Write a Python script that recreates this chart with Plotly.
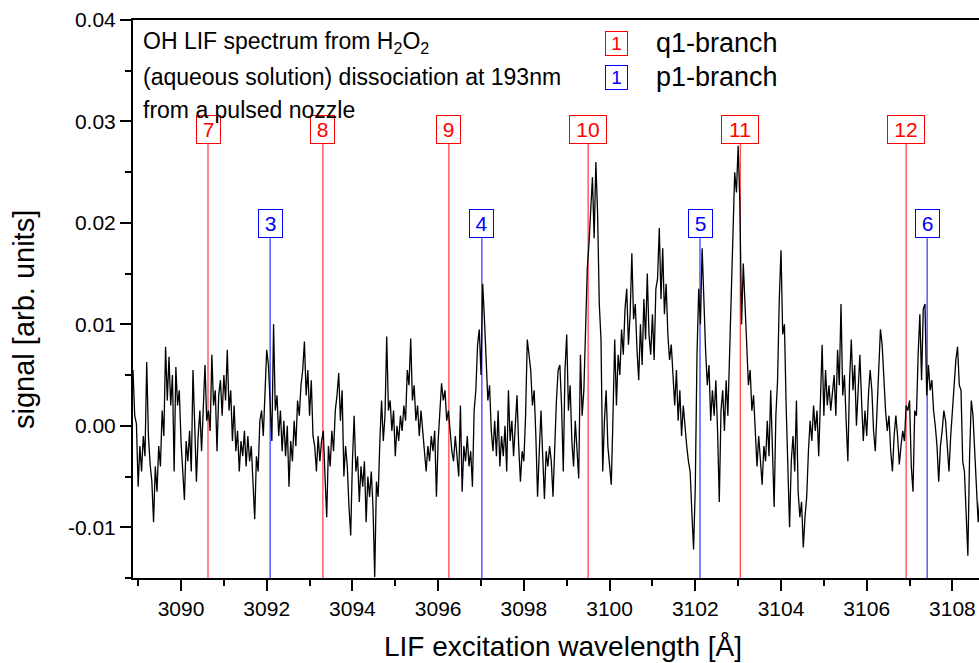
import numpy as np
import plotly.graph_objects as go

# ---------------- data ----------------
wl_start = 3088.88      # first wavelength of the scan [Å]
wl_step = 0.04          # scan step [Å]

# LIF signal in units of 1e-3 (arb. units)
signal_milli = [
    5.5, 1.0, 0.2, -6.0, -2.0, -4.5, -1.0, -3.0, 6.3, -1.0, -3.8, -5.5, -9.5, -4.0, -6.5, -2.0, -4.0, 1.5, -1.0, 7.8, 2.5, 6.8, 2.0, 5.0, -4.5,
    5.8, 2.0, 3.5, -1.5, -4.0, -7.3, -1.5, -3.5, -0.5, -4.5, 5.5, -1.0, -5.5, -1.0, 1.5, -2.5, 2.5, 6.0, 0.5, 1.5, -0.5, 7.0, 2.0, 3.5, -2.5,
    3.0, 4.5, 1.0, 5.0, 2.5, 7.5, 1.5, 3.5, -1.5, 2.0, -2.5, -0.5, -4.5, -1.5, -3.0, -0.5, -4.0, -1.0, -3.5, -2.0, -5.5, -9.2, -3.0, -4.5, 0.5,
    1.5, -1.0, 4.0, 7.5, 6.0, 2.5, -1.5, 10.0, 1.5, 3.0, -1.0, 1.5, -2.5, 0.5, -3.0, 0.0, -6.0, -1.5, -3.5, 0.5, -2.0, 2.5, 1.0, 4.0, 5.5,
    8.3, 3.0, 5.5, 1.0, 4.5, -1.0, -2.0, -4.5, -1.0, -3.5, -1.5, -0.5, -5.0, -9.0, -2.0, -4.0, -0.5, -2.5, 1.5, 3.0, 5.2, 0.5, 3.5, -5.0, -2.0,
    -4.0, -8.0, -10.8, -3.5, 1.0, -4.5, -3.0, -7.5, -4.0, -6.0, -3.5, -9.5, -5.0, -7.0, -4.5, -8.0, -14.9, -5.5, -7.0, -1.5, 2.5, -1.5, 1.0, 8.8, 1.5,
    2.5, -0.5, 1.5, -3.0, 0.0, -1.5, 1.0, -0.5, 2.0, 0.5, 5.5, 4.0, 8.6, 2.5, 4.0, 0.5, 2.0, -1.0, 1.5, -0.5, -2.5, -4.5, -2.0, -3.5, -1.0,
    -2.5, -0.5, -7.0, -1.5, 1.0, 4.2, 2.5, 3.5, 0.5, 1.5, -0.5, -2.5, -3.5, -1.0, -3.0, -5.0, 2.0, -6.5, -2.0, -3.5, -1.0, -4.0, -2.5, -6.0, 1.5,
    3.5, 8.0, 9.5, 5.0, 14.0, 10.5, 6.0, 2.5, 4.0, -0.5, -2.5, 0.5, -3.0, 1.5, -4.0, -1.0, -3.0, 0.0, -4.5, 3.5, -1.5, 0.5, -3.0, -0.5, 3.0,
    -2.0, -5.5, -2.5, -3.5, 1.0, 8.5, 7.0, 5.5, 2.0, 3.5, -1.0, -7.0, -2.5, 1.5, -3.0, -7.2, -2.5, -4.0, -2.0, -3.5, -7.0, -1.0, 2.5, 5.5, 6.0,
    2.0, -4.5, 5.5, 9.0, 1.5, 4.0, -1.5, -4.0, 0.5, -2.5, -5.2, 7.0, 1.0, 3.5, 9.0, 15.5, 18.0, 22.0, 24.5, 18.5, 26.0, 21.0, 12.0, 8.5, -4.5,
    0.5, 3.5, -2.0, -4.0, -5.8, 1.0, 8.5, 2.0, 7.0, 5.0, 9.5, 7.0, 11.5, 13.5, 8.0, 11.0, 17.0, 10.5, 12.0, 7.5, 4.5, 10.0, 6.0, 12.5, 8.5,
    15.0, 9.0, 7.0, 11.0, 6.5, 13.5, 14.5, 19.5, 12.5, 17.5, 11.0, 14.0, 9.0, 6.5, 8.0, 4.5, 2.0, 5.5, 0.5, 3.5, -1.0, 2.0, -0.5, -2.0, -3.5,
    -4.5, -8.5, -12.2, -6.0, 7.0, 13.5, 10.0, 17.5, 12.0, 7.5, 4.0, 6.0, 0.5, 3.5, 1.0, 4.5, -0.5, -7.5, 1.5, 3.5, -0.5, 4.5, 1.0, 8.0, 13.5,
    19.0, 25.0, 23.0, 27.6, 22.0, 10.0, 16.0, 12.0, 7.0, 4.0, 5.5, 1.5, 3.0, -0.5, -4.0, -1.0, -3.5, -5.8, -2.0, -3.5, 0.5, -3.0, 3.5, -2.0, -8.0,
    1.0, 4.5, 12.5, 17.3, 9.0, 10.0, 2.0, -3.0, -10.0, -3.5, -1.0, -4.5, 2.5, -6.5, -9.0, -7.5, -12.0, -9.0, -7.0, -2.5, 0.5, -1.5, 2.0, -0.5, 1.5,
    -3.0, 2.5, 8.0, 1.0, 5.5, 2.0, 4.0, 1.5, 3.5, 5.0, 1.0, 7.5, 4.0, 12.0, 3.0, 5.0, 0.5, -3.5, 4.5, 8.5, 3.5, 6.0, 0.0, 4.0, 7.0,
    2.5, -1.5, 1.5, -1.0, 3.0, 5.5, 3.5, -0.5, -2.5, 1.0, 5.0, 9.5, 8.0, 4.5, 1.5, -0.5, 1.0, -2.5, -4.5, -1.0, 1.0, -1.0, -3.8, -2.0, -0.5,
    -1.5, 2.0, 1.5, 2.5, -4.0, -6.5, 1.5, 1.0, 7.0, 11.0, 4.5, 11.5, 12.0, 3.0, 6.0, 3.5, 4.5, 1.5, 0.0, -2.0, -5.5, -2.0, -0.5, 1.5, 0.5,
    -2.5, -4.5, -1.0, 1.5, 4.5, 6.5, 7.8, 4.0, 3.5, -3.5, -4.5, -9.0, -12.8, -3.0, 2.5, 1.0, -2.5, -6.0, -9.5, -7.0,
]

# line assignments
q1_labels = ["7", "8", "9", "10", "11", "12"]
q1_wavelengths = [3090.63, 3093.31, 3096.25, 3099.50, 3103.05, 3106.92]
p1_labels = ["3", "4", "5", "6"]
p1_wavelengths = [3092.08, 3097.02, 3102.11, 3107.41]

x_ticks = [3090, 3092, 3094, 3096, 3098, 3100, 3102, 3104, 3106, 3108]
y_ticks = [-0.01, 0.00, 0.01, 0.02, 0.03, 0.04]
y_ticktext = ["-0.01", "0.00", "0.01", "0.02", "0.03", "0.04"]

x_range = [3088.88, 3108.62]
y_range = [-0.015, 0.04]

q1_label_y = 0.0278   # bottom of the q1 label boxes
p1_label_y = 0.0185   # bottom of the p1 label boxes

# ---------------- figure ----------------
wavelength = wl_start + wl_step * np.arange(len(signal_milli))
signal = np.array(signal_milli) * 1e-3

FONT = "Liberation Sans, Arial, sans-serif"
RED = "#ff0000"
BLUE = "#0000ff"

fig = go.Figure()

shapes = []
annotations = []

for lab, wl in zip(q1_labels, q1_wavelengths):
    shapes.append(dict(type="line", xref="x", yref="y", x0=wl, x1=wl,
                       y0=y_range[0], y1=q1_label_y,
                       line=dict(color="rgba(255,40,40,0.85)", width=1.3), layer="below"))
    annotations.append(dict(x=wl, y=q1_label_y, xref="x", yref="y", text=lab,
                            showarrow=False, xanchor="center", yanchor="bottom",
                            font=dict(family=FONT, size=21, color=RED),
                            bordercolor=RED, borderwidth=1, borderpad=2,
                            bgcolor="white", width=19 if len(lab) == 1 else 32))
for lab, wl in zip(p1_labels, p1_wavelengths):
    shapes.append(dict(type="line", xref="x", yref="y", x0=wl, x1=wl,
                       y0=y_range[0], y1=p1_label_y,
                       line=dict(color="rgba(40,40,255,0.9)", width=1.3), layer="below"))
    annotations.append(dict(x=wl, y=p1_label_y, xref="x", yref="y", text=lab,
                            showarrow=False, xanchor="center", yanchor="bottom",
                            font=dict(family=FONT, size=21, color=BLUE),
                            bordercolor=BLUE, borderwidth=1, borderpad=2,
                            bgcolor="white", width=19))

fig.add_trace(go.Scatter(x=wavelength, y=signal, mode="lines",
                         line=dict(color="black", width=1.3), showlegend=False,
                         hoverinfo="skip"))

# plot area geometry in pixels (for placing paper-referenced text)
W, H = 979, 663
L, R, T, B = 133, 0, 20, 85
pw, ph = W - L - R, H - T - B

def px(xp):
    return (xp - L) / pw

def py(yp):
    return (H - B - yp) / ph

# description text
desc_lines = [
    "OH LIF spectrum from H<sub>2</sub>O<sub>2</sub>",
    "(aqueous solution) dissociation at 193nm",
    "from a pulsed nozzle",
]
desc_y = [42, 77, 110]
for t, yy in zip(desc_lines, desc_y):
    annotations.append(dict(x=px(141), y=py(yy), xref="paper", yref="paper", text=t,
                            showarrow=False, xanchor="left", yanchor="middle",
                            font=dict(family=FONT, size=23, color="black")))

# legend (custom)
legend_items = [("q1-branch", RED, 43), ("p1-branch", BLUE, 77)]
for name, col, yy in legend_items:
    annotations.append(dict(x=px(616), y=py(yy), xref="paper", yref="paper", text="1",
                            showarrow=False, xanchor="center", yanchor="middle",
                            font=dict(family=FONT, size=19, color=col),
                            bordercolor=col, borderwidth=1, borderpad=1,
                            bgcolor="white", width=19))
    annotations.append(dict(x=px(654), y=py(yy), xref="paper", yref="paper", text=name,
                            showarrow=False, xanchor="left", yanchor="middle",
                            font=dict(family=FONT, size=27, color="black")))

# axis titles
annotations.append(dict(x=px(563), y=py(647), xref="paper", yref="paper",
                        text="LIF excitation wavelength [Å]", showarrow=False,
                        xanchor="center", yanchor="middle",
                        font=dict(family=FONT, size=28, color="black")))
annotations.append(dict(x=px(24), y=py(320), xref="paper", yref="paper",
                        text="signal [arb. units]", showarrow=False, textangle=-90,
                        xanchor="center", yanchor="middle",
                        font=dict(family=FONT, size=29, color="black")))

fig.update_layout(
    width=W, height=H,
    margin=dict(l=L, r=R, t=T, b=B),
    paper_bgcolor="white", plot_bgcolor="white",
    shapes=shapes, annotations=annotations,
    font=dict(family=FONT, color="black"),
    xaxis=dict(range=x_range, showgrid=False, zeroline=False,
               showline=True, linecolor="black", linewidth=2, mirror=True,
               ticks="outside", ticklen=11, tickwidth=2, tickcolor="black",
               tickvals=x_ticks, ticktext=[str(v) for v in x_ticks],
               tickfont=dict(family=FONT, size=21, color="black"),
               minor=dict(dtick=1, tick0=3089, ticks="outside", ticklen=6,
                          tickwidth=2, tickcolor="black", showgrid=False)),
    yaxis=dict(range=y_range, showgrid=False, zeroline=False,
               showline=True, linecolor="black", linewidth=2, mirror=False,
               ticks="outside", ticklen=11, tickwidth=2, tickcolor="black",
               tickvals=y_ticks, ticktext=y_ticktext,
               tickfont=dict(family=FONT, size=21, color="black"),
               minor=dict(dtick=0.005, tick0=0, ticks="outside", ticklen=6,
                          tickwidth=2, tickcolor="black", showgrid=False)),
)

fig.write_html("out.html")
